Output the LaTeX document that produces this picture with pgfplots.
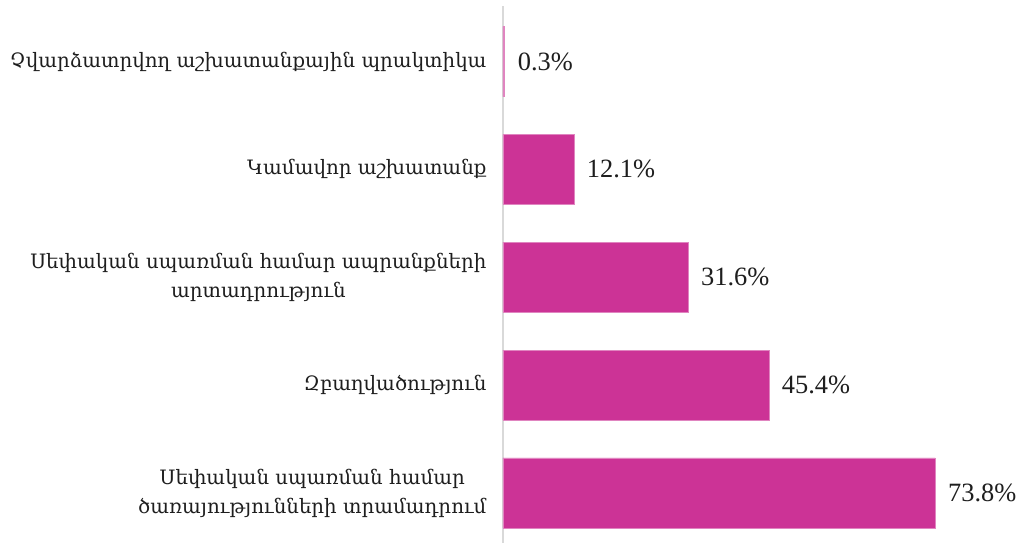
\documentclass[border=0pt]{standalone}
\usepackage{pgfplots}
\pgfplotsset{compat=1.18}
\usepackage{fontspec}
\setmainfont{Liberation Serif}
\newfontfamily\armfont{DejaVu Serif}
\definecolor{barpink}{RGB}{204,51,150}
\definecolor{txt}{RGB}{30,30,30}
\definecolor{axgray}{RGB}{217,217,217}
\begin{document}
\begin{tikzpicture}
\begin{axis}[
  scale only axis,
  width=468.4bp, height=537bp,
  xbar, bar width=0.65,
  xmin=0, xmax=80,
  ymin=-0.463, ymax=4.514,
  axis x line=none,
  axis y line*=left,
  y axis line style={axgray, line width=1.5bp},
  ytick={0,1,2,3,4},
  yticklabels={{Սեփական սպառման համար\\ծառայությունների տրամադրում},{Զբաղվածություն},{Սեփական սպառման համար ապրանքների\\արտադրություն},{Կամավոր աշխատանք},{Չվարձատրվող աշխատանքային պրակտիկա}},
  yticklabel style={font=\armfont\fontsize{19.9}{29}\selectfont, text=txt, align=center, xshift=-13bp},
  major tick length=0pt,
  tick style={draw=none},
  /pgf/number format/assume math mode=true,
  nodes near coords={\pgfmathprintnumber[fixed,precision=1,fixed zerofill]{\pgfplotspointmeta}\%},
  nodes near coords style={font=\fontsize{26.5}{30}\selectfont, text=txt, anchor=west, xshift=9.5bp},
  clip=false,
]
\addplot[fill=barpink, draw=barpink!60!white, line width=0.6bp] coordinates {(73.8,0) (45.4,1) (31.6,2) (12.1,3) (0.3,4)};
\coordinate (bl) at (axis cs:0,-0.463);
\end{axis}
\pgfresetboundingbox
\path (bl) ++(-503bp,0) rectangle ++(1021bp,543bp);
\end{tikzpicture}
\end{document}
